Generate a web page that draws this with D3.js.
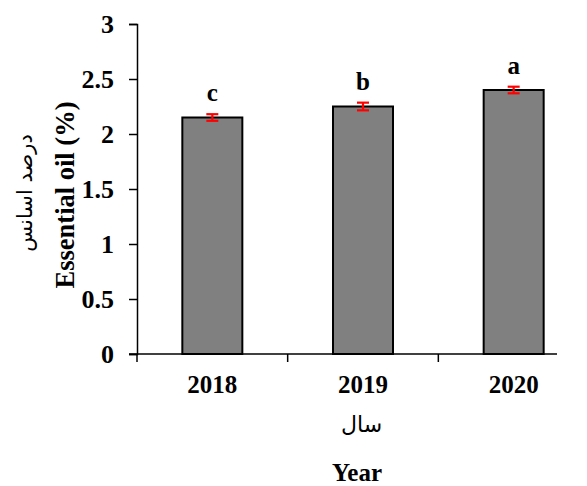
<!DOCTYPE html>
<html>
<head>
<meta charset="utf-8">
<script src="https://cdn.jsdelivr.net/npm/d3@7"></script>
<style>
  html, body { margin: 0; padding: 0; background: #fff; }
  svg { display: block; }
</style>
</head>
<body>
<svg id="chart" width="587" height="486"></svg>
<script>
// Essential oil content by harvest year
const years = ["2018", "2019", "2020"];
const oilPercent = [2.15, 2.25, 2.40];
const oilError = [0.03, 0.035, 0.03];
const groupLetters = ["c", "b", "a"];
const yTicks = [0, 0.5, 1, 1.5, 2, 2.5, 3];

(function draw() {
  const svg = d3.select("#chart");
  const serif = "'Liberation Serif', 'Times New Roman', serif";
  const persian = "'DejaVu Sans', sans-serif";
  const fs = 25;

  const m = { left: 137, right: 589, top: 24, bottom: 354 };

  const x = d3.scaleBand().domain(years).range([m.left, m.right]).paddingInner(0).paddingOuter(0);
  const y = d3.scaleLinear().domain([0, 3]).range([m.bottom, m.top]);
  const barW = 60;

  // Y axis
  const yAxis = svg.append("g")
    .attr("transform", `translate(${m.left},0)`)
    .call(d3.axisLeft(y).tickValues(yTicks).tickSize(8).tickPadding(15)
      .tickFormat(d => d3.format("")(d)));
  yAxis.select(".domain").attr("stroke", "#000").attr("stroke-width", 1.5);
  yAxis.selectAll(".tick line").attr("stroke", "#000").attr("stroke-width", 1.5);
  yAxis.selectAll(".tick text")
    .attr("font-family", serif).attr("font-weight", "bold").attr("font-size", fs + 1)
    .attr("fill", "#000");

  // Bars
  svg.append("g").selectAll("rect")
    .data(years)
    .join("rect")
    .attr("x", (d) => x(d) + x.bandwidth() / 2 - barW / 2)
    .attr("y", (d, i) => y(oilPercent[i]))
    .attr("width", barW)
    .attr("height", (d, i) => y(0) - y(oilPercent[i]))
    .attr("fill", "#808080")
    .attr("stroke", "#000")
    .attr("stroke-width", 2);

  // X axis (drawn after bars so baseline sits on top)
  svg.append("line")
    .attr("x1", m.left - 8).attr("x2", 557)
    .attr("y1", m.bottom).attr("y2", m.bottom)
    .attr("stroke", "#000").attr("stroke-width", 1.5);
  svg.append("g").selectAll("line")
    .data(years)
    .join("line")
    .attr("x1", d => x(d)).attr("x2", d => x(d))
    .attr("y1", m.bottom).attr("y2", m.bottom + 8)
    .attr("stroke", "#000").attr("stroke-width", 1.5);
  svg.append("g").selectAll("text")
    .data(years)
    .join("text")
    .attr("x", d => x(d) + x.bandwidth() / 2)
    .attr("y", m.bottom + 39)
    .attr("text-anchor", "middle")
    .attr("font-family", serif).attr("font-weight", "bold").attr("font-size", fs)
    .text(d => d);

  // Error bars
  const err = svg.append("g").attr("stroke", "#ff0000").attr("stroke-width", 2.2);
  years.forEach((d, i) => {
    const cx = x(d) + x.bandwidth() / 2;
    const hi = y(oilPercent[i] + oilError[i]);
    const lo = y(oilPercent[i] - oilError[i]);
    err.append("line").attr("x1", cx).attr("x2", cx).attr("y1", hi).attr("y2", lo);
    err.append("line").attr("x1", cx - 6).attr("x2", cx + 6).attr("y1", hi).attr("y2", hi);
    err.append("line").attr("x1", cx - 6).attr("x2", cx + 6).attr("y1", lo).attr("y2", lo);
  });

  // Significance letters
  svg.append("g").selectAll("text")
    .data(years)
    .join("text")
    .attr("x", d => x(d) + x.bandwidth() / 2)
    .attr("y", (d, i) => y(oilPercent[i] + oilError[i]) - 13)
    .attr("text-anchor", "middle")
    .attr("font-family", serif).attr("font-weight", "bold").attr("font-size", fs)
    .text((d, i) => groupLetters[i]);

  // Axis titles
  svg.append("text")
    .attr("transform", "translate(74,195) rotate(-90)")
    .attr("text-anchor", "middle")
    .attr("font-family", serif).attr("font-weight", "bold").attr("font-size", 26.5)
    .text("Essential oil (%)");
  svg.append("text")
    .attr("transform", "translate(32,193) rotate(-90)")
    .attr("text-anchor", "middle")
    .attr("font-family", persian).attr("font-size", 21)
    .text("درصد اسانس");
  svg.append("text")
    .attr("x", 361.5).attr("y", 432)
    .attr("text-anchor", "middle")
    .attr("font-family", persian).attr("font-size", 22)
    .text("سال");
  svg.append("text")
    .attr("x", 357).attr("y", 481)
    .attr("text-anchor", "middle")
    .attr("font-family", serif).attr("font-weight", "bold").attr("font-size", fs)
    .text("Year");
})();
</script>
</body>
</html>
